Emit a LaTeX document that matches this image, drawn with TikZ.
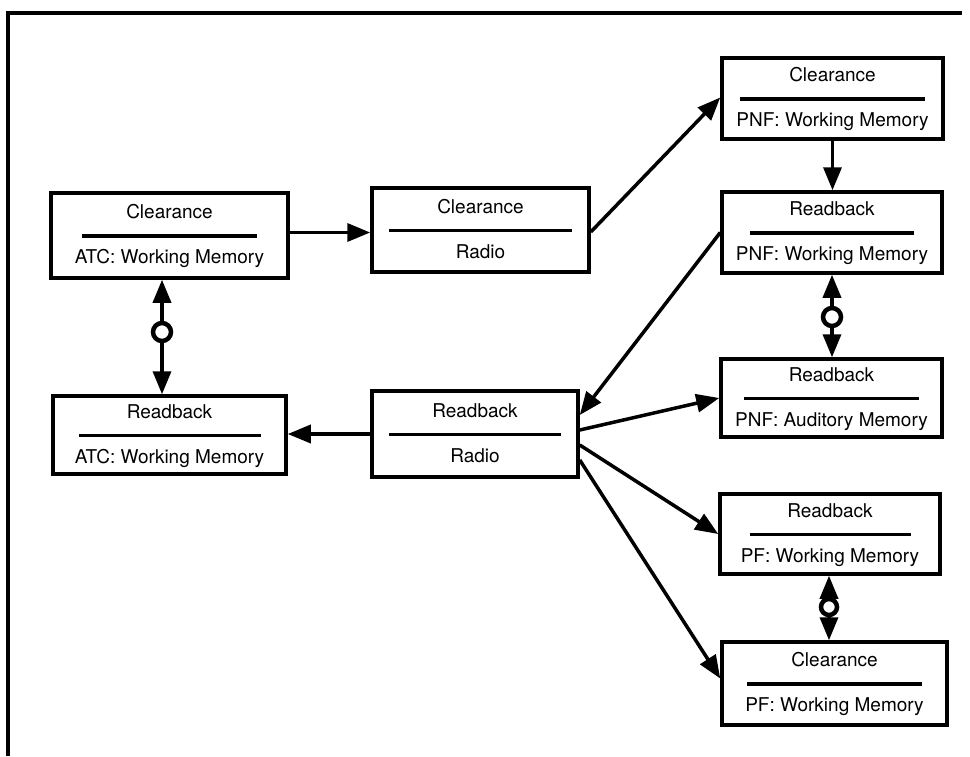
\documentclass[tikz,border=0pt]{standalone}
\usepackage{fontspec}
\setmainfont{TeX Gyre Heros}
\usetikzlibrary{arrows.meta,calc}
\tikzset{
  card/.style={draw, line width=3.5pt, rectangle, inner sep=0pt},
  lab/.style={anchor=base, inner sep=0pt, font=\fontsize{19}{22}\selectfont},
  sepline/.style={line width=3.2pt},
  conn/.style={line width=3.5pt},
  tip/.style={-{Triangle[length=23pt,width=18pt]}},
  ring/.style={circle, draw, line width=4.5pt, fill=white, minimum size=18pt, inner sep=0pt},
  frame/.style={line width=3.5pt},
}
\newcommand\mkcard[8]{%
  \node[card, minimum width=#4pt, minimum height=#5pt] (#1) at (#2,#3) {};
  \node[lab] (#1-t) at ($(#1.center)+(0,-17)$) {#7};
  \node[lab] (#1-s) at ($(#1.center)+(0,28)$) {#8};
  \coordinate (#1-l) at ($(#1.center)+(-#6/2,0.5)$);
  \coordinate (#1-r) at ($(#1.center)+(#6/2,0.5)$);
  \draw[sepline] (#1-l) -- (#1-r);
}
\begin{document}
\begin{tikzpicture}[x=1pt,y=-1pt]
\useasboundingbox (0,0) rectangle (970,756);
\coordinate (f1) at (8,756);
\coordinate (f2) at (8,13);
\coordinate (f3) at (962,13);
\draw[frame] (f1) -- (f2) -- (f3);

\mkcard{A}{169.5}{235.5}{237}{85}{175}{Clearance}{ATC: Working Memory}
\mkcard{B}{169.5}{435}{233}{78}{182}{Readback}{ATC: Working Memory}
\mkcard{C}{480.5}{230}{217}{84}{183}{Clearance}{Radio}
\mkcard{D}{475}{434}{206}{86}{172}{Readback}{Radio}
\mkcard{E}{832.5}{98.5}{221}{81}{185}{Clearance}{PNF: Working Memory}
\mkcard{F}{832}{232.5}{220}{81}{164}{Readback}{PNF: Working Memory}
\mkcard{G}{831.5}{398}{221}{78}{175}{Readback}{PNF: Auditory Memory}
\mkcard{H}{830}{534}{220}{80}{161}{Readback}{PF: Working Memory}
\mkcard{I}{834.5}{683.5}{225}{83}{175}{Clearance}{PF: Working Memory}

% straight connectors
\draw[conn,tip] ([yshift=3pt]A.east) -- ([yshift=3pt]A.east -| C.west);
\draw[conn,tip] ([yshift=-2pt]C.east) -- ([yshift=1pt]E.west);
\draw[conn,tip] (E.south) -- (E.south |- F.north);
\draw[conn,tip] (F.west) -- ([yshift=19pt]D.east);
\draw[conn,tip] ([yshift=4pt]D.east) -- (G.west);
\draw[conn,tip] ([yshift=-11pt]D.east) -- (H.west);
\draw[conn,tip] ([yshift=-26pt]D.east) -- ([yshift=5pt]I.west);
\draw[conn,tip] (D.west) -- (D.west -| B.east);

% bidirectional links with rings
\node[ring] (r1) at (162,332) {};
\draw[conn,tip] (r1) -- (r1 |- A.south);
\draw[conn,tip] (r1) -- (r1 |- B.north);
\node[ring] (r2) at (832,317) {};
\draw[conn,tip] (r2) -- (r2 |- F.south);
\draw[conn,tip] (r2) -- (r2 |- G.north);
\node[ring, minimum size=16pt] (r3) at (829,607) {};
\draw[conn,tip] (r3) -- (r3 |- H.south);
\draw[conn,tip] (r3) -- (r3 |- I.north);
\end{tikzpicture}
\end{document}
